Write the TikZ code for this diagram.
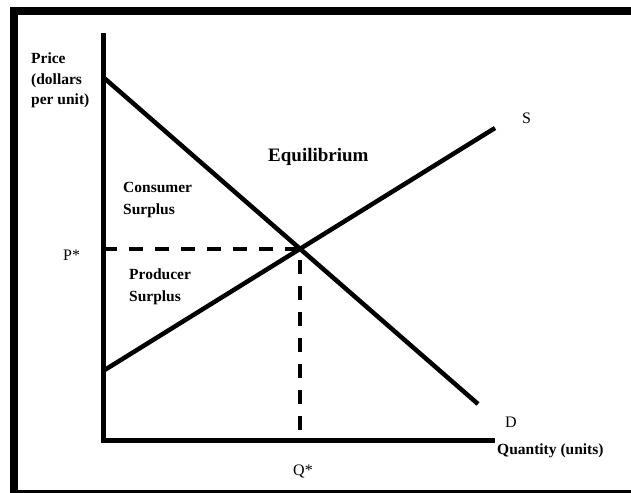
\documentclass[tikz,border=0pt]{standalone}
\usepackage{fontspec}
\setmainfont{Liberation Serif}
\usetikzlibrary{calc}

\begin{document}
\begin{tikzpicture}[x=1pt, y=-1pt,
    curve/.style={line width=4.5pt, line cap=butt},
    guide/.style={line width=4pt, dash pattern=on 14pt off 12pt},
    lbl/.style={inner sep=0pt, font=\fontsize{15.5}{22}\selectfont\bfseries, align=left},
    tag/.style={inner sep=0pt, font=\fontsize{16}{20}\selectfont}]
    \clip (0,0) rectangle (631,492);
    \fill[white] (0,0) rectangle (631,492);

    % Define coordinates
    \coordinate (O) at (103,440);
    \coordinate (Ytop) at (103,33);
    \coordinate (Xend) at (495,440);
    \coordinate (Dtop) at (103,77);
    \coordinate (Dbot) at (478,404);
    \coordinate (Sbot) at (103,371);
    \coordinate (Stop) at (495,128);
    \coordinate (E) at (intersection of Dtop--Dbot and Sbot--Stop);
    \coordinate (Pstar) at (O |- E);
    \coordinate (Qstar) at (E |- O);

    % Draw the frame
    \draw[line width=8pt] (13.5,11.5) rectangle (640,493.5);

    % Draw axes
    \draw[line width=5pt, line join=miter] (Ytop) -- (O) -- (Xend);

    % Draw demand and supply
    \draw[curve] (Dtop) -- (Dbot);
    \draw[curve] (Sbot) -- (Stop);

    % Draw equilibrium guides
    \draw[guide] (Pstar) -- (E) -- (Qstar);

    % Labels
    \node[lbl, anchor=north west, font=\fontsize{15.5}{20.5}\selectfont\bfseries] (price) at (31,53) {Price\\(dollars\\per unit)};
    \node[lbl, anchor=base west] (cs) at (123,214) {Consumer\\Surplus};
    \node[lbl, anchor=base west] (ps) at (129,301) {Producer\\Surplus};
    \node[lbl, anchor=base west, font=\fontsize{19}{22}\selectfont\bfseries] (eq) at (268,161) {Equilibrium};
    \node[lbl, anchor=base west] (qty) at (497,454) {Quantity (units)};
    \node[tag, anchor=base west] (slbl) at (522,123) {S};
    \node[tag, anchor=base west] (dlbl) at (505,427) {D};
    \node[tag, anchor=base west] (plbl) at (63,260) {P*};
    \node[tag, anchor=base west] (qlbl) at (293,475) {Q*};
\end{tikzpicture}
\end{document}
